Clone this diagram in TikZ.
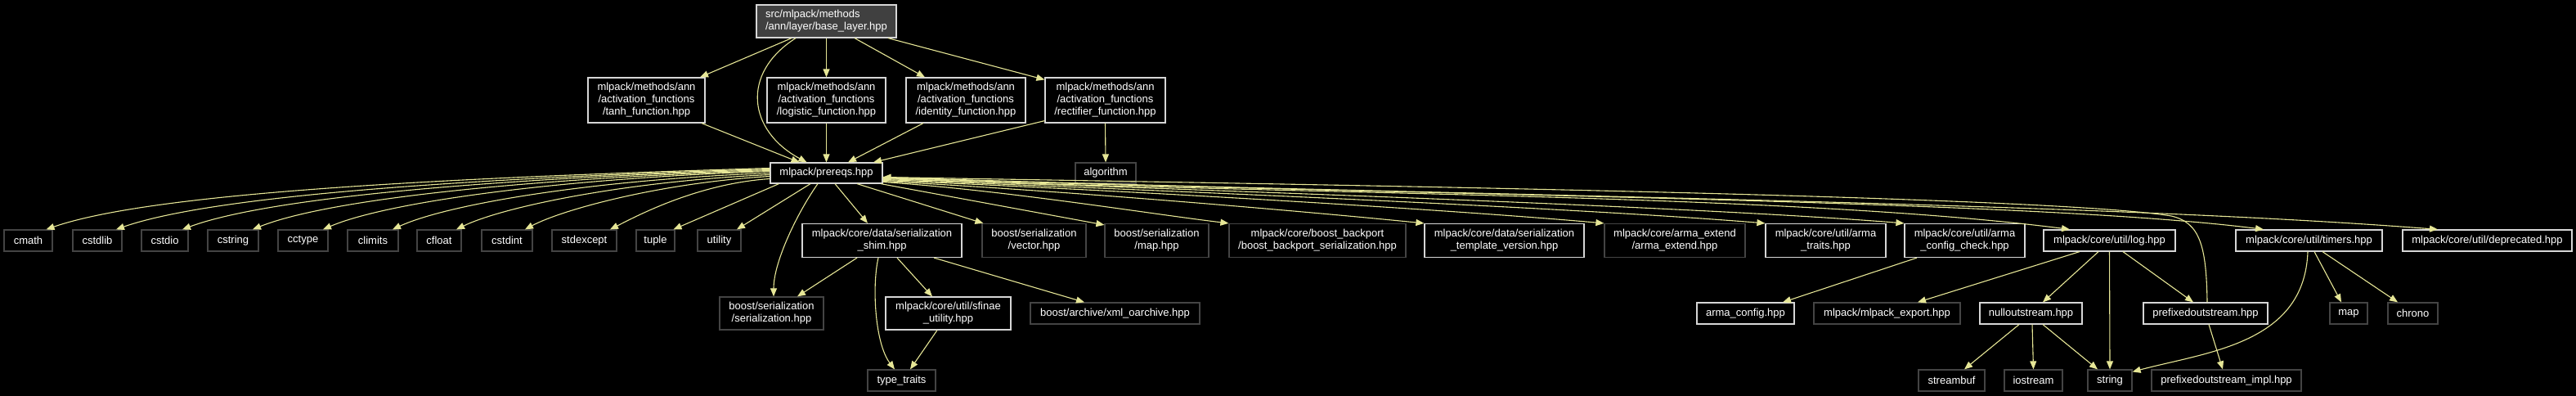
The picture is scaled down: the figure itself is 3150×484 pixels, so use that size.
\documentclass[tikz,border=0pt]{standalone}
\usepackage{fontspec}
\setmainfont{Liberation Sans}
\usetikzlibrary{arrows.meta}
\definecolor{edgec}{HTML}{E6E696}
\definecolor{darkb}{HTML}{444444}
\definecolor{lightb}{HTML}{D6D6D6}
\definecolor{rootf}{HTML}{404040}
\begin{document}
\begin{tikzpicture}[x=1pt,y=-1pt,
  box/.style={rectangle, draw, line width=1.2pt, fill=black, text=white, inner sep=0pt, align=center, font=\fontsize{13}{15}\selectfont},
  wbox/.style={box, draw=lightb},
  dbox/.style={box, draw=darkb},
  sz/.style 2 args={minimum width=#1pt, minimum height=#2pt},
  e/.style={draw=edgec, line width=1.1pt, -{Triangle[length=10pt,width=8pt]}}]
\fill[black] (0,0) rectangle (3150,484);
\useasboundingbox (0,0) rectangle (3150,484);

% row 0
\node[box, draw=lightb, fill=rootf, sz={171}{40}, align=left] (root) at (1010.5,26) {src/mlpack/methods\\/ann/layer/base\_layer.hpp};
% row 1
\node[wbox, sz={143}{55}] (tanh) at (790.5,122.5) {mlpack/methods/ann\\/activation\_functions\\/tanh\_function.hpp};
\node[wbox, sz={145}{55}] (logistic) at (1010.5,122.5) {mlpack/methods/ann\\/activation\_functions\\/logistic\_function.hpp};
\node[wbox, sz={146}{55}] (identity) at (1181,122.5) {mlpack/methods/ann\\/activation\_functions\\/identity\_function.hpp};
\node[wbox, sz={147}{55}] (rectifier) at (1351.5,122.5) {mlpack/methods/ann\\/activation\_functions\\/rectifier\_function.hpp};
% row 2
\node[wbox, sz={137}{25}] (prereqs) at (1010.5,211.5) {mlpack/prereqs.hpp};
\node[dbox, sz={74}{25}] (algorithm) at (1352,211.5) {algorithm};
% row 3
\node[dbox, sz={59}{26}] (cmath) at (34.5,294) {cmath};
\node[dbox, sz={60}{26}] (cstdlib) at (119,294) {cstdlib};
\node[dbox, sz={57}{26}] (cstdio) at (201.5,294) {cstdio};
\node[dbox, sz={62}{26}] (cstring) at (285,294) {cstring};
\node[dbox, sz={61}{26}] (cctype) at (370.5,294) {cctype};
\node[dbox, sz={62}{26}] (climits) at (456,294) {climits};
\node[dbox, sz={54}{26}] (cfloat) at (537,294) {cfloat};
\node[dbox, sz={62}{26}] (cstdint) at (620,294) {cstdint};
\node[dbox, sz={79}{26}] (stdexcept) at (714.5,294) {stdexcept};
\node[dbox, sz={47}{26}] (tuple) at (801.5,294) {tuple};
\node[dbox, sz={53}{26}] (utility) at (879.5,294) {utility};
\node[wbox, sz={195}{41}] (shim) at (1078.5,294) {mlpack/core/data/serialization\\\_shim.hpp};
\node[dbox, sz={127}{41}] (vector) at (1264.5,294) {boost/serialization\\/vector.hpp};
\node[dbox, sz={127}{41}] (maphpp) at (1414.5,294) {boost/serialization\\/map.hpp};
\node[dbox, sz={216}{41}] (backport) at (1611,294) {mlpack/core/boost\_backport\\/boost\_backport\_serialization.hpp};
\node[wbox, sz={195}{41}] (tv) at (1839.5,294) {mlpack/core/data/serialization\\\_template\_version.hpp};
\node[dbox, sz={172}{41}] (ae) at (2048,294) {mlpack/core/arma\_extend\\/arma\_extend.hpp};
\node[wbox, sz={147}{41}] (at) at (2232.5,294) {mlpack/core/util/arma\\\_traits.hpp};
\node[wbox, sz={147}{41}] (acc) at (2402.5,294) {mlpack/core/util/arma\\\_config\_check.hpp};
\node[wbox, sz={161}{26}] (log) at (2579.5,294) {mlpack/core/util/log.hpp};
\node[wbox, sz={179}{26}] (timers) at (2823.5,294) {mlpack/core/util/timers.hpp};
\node[wbox, sz={207}{26}] (deprecated) at (3041.5,294) {mlpack/core/util/deprecated.hpp};
% row 4
\node[dbox, sz={127}{40}] (serhpp) at (943.5,383) {boost/serialization\\/serialization.hpp};
\node[wbox, sz={153}{40}] (sfinae) at (1159.5,383) {mlpack/core/util/sfinae\\\_utility.hpp};
\node[dbox, sz={207}{26}] (xml) at (1363.5,383) {boost/archive/xml\_oarchive.hpp};
\node[wbox, sz={119}{26}] (armaconfig) at (2134.5,383) {arma\_config.hpp};
\node[dbox, sz={179}{26}] (export) at (2307.5,383) {mlpack/mlpack\_export.hpp};
\node[wbox, sz={125}{26}] (null) at (2483.5,383) {nulloutstream.hpp};
\node[wbox, sz={152}{26}] (prefixed) at (2697,383) {prefixedoutstream.hpp};
\node[dbox, sz={46}{26}] (mapstd) at (2872,383) {map};
\node[dbox, sz={61}{26}] (chrono) at (2950.5,383) {chrono};
% row 5
\node[dbox, sz={83}{26}] (typetraits) at (1102.5,465) {type\_traits};
\node[dbox, sz={81}{26}] (streambuf) at (2386.5,465) {streambuf};
\node[dbox, sz={71}{26}] (iostream) at (2486.5,465) {iostream};
\node[dbox, sz={54}{26}] (string) at (2580,465) {string};
\node[dbox, sz={183}{26}] (impl) at (2722.5,465) {prefixedoutstream\_impl.hpp};

% edges from root
\draw[e] ([xshift=-42.5]root.south) -- ([xshift=65.5]tanh.north);
\draw[e] ([xshift=-37.5]root.south) .. controls (905,90) and (915,160) .. ([xshift=-24]prereqs.north);
\draw[e] (root.south) -- (logistic.north);
\draw[e] ([xshift=34.5]root.south) -- ([xshift=-50]identity.north);
\draw[e] ([xshift=75.5]root.south) -- ([yshift=-3]rectifier.north west);
% row 1 to row 2
\draw[e] ([xshift=67.5]tanh.south) -- ([xshift=-33]prereqs.north);
\draw[e] (logistic.south) -- (prereqs.north);
\draw[e] ([xshift=-52]identity.south) -- ([xshift=26.5]prereqs.north);
\draw[e] ([yshift=3]rectifier.south west) -- ([xshift=57.5]prereqs.north);
\draw[e] (rectifier.south) -- (algorithm.north);

% left fan
\draw[e] ([yshift=6]prereqs.west) .. controls +(-400,12) and +(130,-45) .. ([xshift=22]cmath.north);
\draw[e] ([yshift=5]prereqs.west) .. controls +(-360,11) and +(120,-42) .. ([xshift=23]cstdlib.north);
\draw[e] ([yshift=4]prereqs.west) .. controls +(-325,10) and +(108,-40) .. ([xshift=21.5]cstdio.north);
\draw[e] ([yshift=3]prereqs.west) .. controls +(-285,9) and +(95,-38) .. ([xshift=24]cstring.north);
\draw[e] ([yshift=2]prereqs.west) .. controls +(-245,8) and +(82,-35) .. ([xshift=24.5]cctype.north);
\draw[e] ([yshift=0]prereqs.west) .. controls +(-210,8) and +(70,-32) .. ([xshift=24]climits.north);
\draw[e] ([yshift=-2]prereqs.west) .. controls +(-175,8) and +(58,-28) .. ([xshift=21]cfloat.north);
\draw[e] ([yshift=-4]prereqs.west) .. controls +(-135,8) and +(45,-24) .. ([xshift=22]cstdint.north);
\draw[e] ([yshift=-7]prereqs.west) .. controls +(-90,6) and +(30,-15) .. ([xshift=31.5]stdexcept.north);
\draw[e] ([xshift=-58]prereqs.south) -- ([xshift=22]tuple.north);
\draw[e] ([xshift=-19.5]prereqs.south) -- ([xshift=21.5]utility.north);
\draw[e] ([xshift=-10.5]prereqs.south) .. controls (975,260) and (946,320) .. ([xshift=2.5]serhpp.north);
\draw[e] ([xshift=10.5]prereqs.south) -- ([xshift=-17.5]shim.north);
\draw[e] ([xshift=37.5]prereqs.south) -- ([xshift=2]vector.north west);
\draw[e] ([xshift=66.5]prereqs.south) -- ([yshift=-2]maphpp.north west);

% right fan
\draw[e] ([yshift=-11]prereqs.east) .. controls +(150,10) and +(-100,-12) .. (backport.north west);
\draw[e] ([yshift=-10]prereqs.east) .. controls +(230,12) and +(-140,-14) .. (tv.north west);
\draw[e] ([yshift=-9]prereqs.east) .. controls +(300,12) and +(-180,-16) .. (ae.north west);
\draw[e] ([yshift=-8]prereqs.east) .. controls +(370,14) and +(-220,-18) .. (at.north west);
\draw[e] ([yshift=-7]prereqs.east) .. controls +(430,15) and +(-250,-20) .. (acc.north west);
\draw[e] ([yshift=-6]prereqs.east) .. controls +(450,20) and +(-350,-45) .. ([xshift=-48.5]log.north);
\draw[e] ([yshift=-5.5]prereqs.east) .. controls +(580,21) and +(-300,-38) .. ([xshift=-55.5]timers.north);
\draw[e] ([yshift=-5]prereqs.east) .. controls +(650,22) and +(-450,-35) .. ([xshift=-60.5]deprecated.north);
\draw[e] ([xshift=2]prefixed.north) .. controls (2698,300) and (2690,272) .. (2655,264) .. controls (2500,238) and (1500,224) .. ([yshift=-5]prereqs.east);

% shim and below
\draw[e] ([xshift=-30.5]shim.south) -- ([xshift=31.5]serhpp.north);
\draw[e] ([xshift=-4.5]shim.south) .. controls (1066,350) and (1070,420) .. ([xshift=-8.5]typetraits.north);
\draw[e] ([xshift=18.5]shim.south) -- ([xshift=-19.5]sfinae.north);
\draw[e] ([xshift=63.5]shim.south) -- ([xshift=-37.5]xml.north);
\draw[e] ([xshift=-13.5]sfinae.south) -- ([xshift=10.5]typetraits.north);

% util
\draw[e] ([xshift=-58.5]acc.south) -- ([xshift=45.5]armaconfig.north);
\draw[e] ([xshift=-36.5]log.south) -- ([xshift=37.5]export.north);
\draw[e] ([xshift=-13.5]log.south) -- ([xshift=14.5]null.north);
\draw[e] (log.south) -- (string.north);
\draw[e] ([xshift=16.5]log.south) -- ([xshift=-15]prefixed.north);
\draw[e] ([xshift=-14.5]null.south) -- ([xshift=15.5]streambuf.north);
\draw[e] ([xshift=1.5]null.south) -- (iostream.north);
\draw[e] ([xshift=14.5]null.south) -- ([xshift=-15]string.north);
\draw[e] ([xshift=4]prefixed.south) -- ([xshift=-4.5]impl.north);
\draw[e] ([xshift=-1.5]timers.south) .. controls (2818,420) and (2700,430) .. ([yshift=-3]string.north east);
\draw[e] ([xshift=6.5]timers.south) -- ([xshift=-9]mapstd.north);
\draw[e] ([xshift=16.5]timers.south) -- ([xshift=-18.5]chrono.north);
\end{tikzpicture}
\end{document}
